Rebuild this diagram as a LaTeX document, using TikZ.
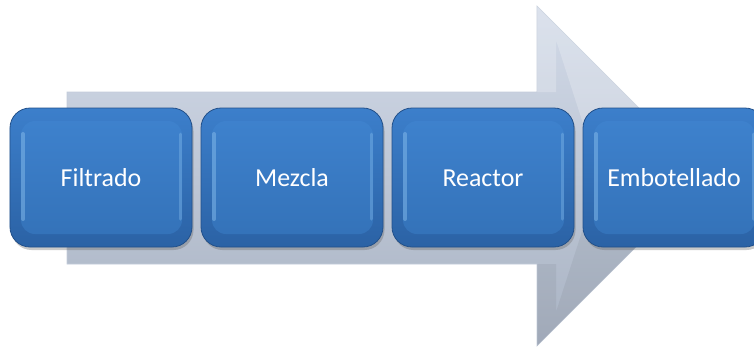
\documentclass[tikz,border=0pt]{standalone}
\usepackage{fontspec}
\setmainfont{Carlito}
\usetikzlibrary{shadows}
\definecolor{boxtop}{HTML}{3C7FCB}
\definecolor{boxbot}{HTML}{2B62A5}
\definecolor{boxedge}{HTML}{22508A}
\definecolor{facetop}{HTML}{3F83CF}
\definecolor{facebot}{HTML}{3371B7}
\definecolor{glint}{HTML}{8EC2EE}
\definecolor{arrtop}{HTML}{D2DAE8}
\definecolor{arrbot}{HTML}{A9B3C3}
\definecolor{arredge}{HTML}{C3CCDA}
\tikzset{
  stepbox/.style={
    rounded corners=20bp, minimum width=182bp, minimum height=139bp,
    draw=boxedge, line width=0.8bp, top color=boxtop, bottom color=boxbot,
    text=white, font=\fontsize{26}{30}\selectfont, inner sep=0pt,
    text height=21bp, text depth=4bp,
    drop shadow={shadow xshift=1.5bp, shadow yshift=-3bp, opacity=0.35, fill=black!60},
    path picture={
      \path[rounded corners=14bp, top color=facetop, bottom color=facebot]
        ([shift={(11bp,-13bp)}]path picture bounding box.north west)
        rectangle ([shift={(-10bp,13bp)}]path picture bounding box.south east);
      \draw[glint, line width=4bp, line cap=round, opacity=0.45]
        ([shift={(13bp,-26bp)}]path picture bounding box.north west)
        -- ([shift={(13bp,28bp)}]path picture bounding box.south west);
      \draw[glint, line width=3bp, line cap=round, opacity=0.35]
        ([shift={(-12bp,-26bp)}]path picture bounding box.north east)
        -- ([shift={(-12bp,28bp)}]path picture bounding box.south east);
    }
  },
  flowarrow/.style={top color=arrtop, bottom color=arrbot, draw=arredge, line width=0.6bp}
}
\begin{document}
\begin{tikzpicture}[x=1bp, y=-1bp]
  \useasboundingbox (0,0) rectangle (754,347);
  \clip (0,0) rectangle (754,347);
  % wide process arrow behind the steps
  \path[flowarrow] (67,92) -- (537,92) -- (537,6) -- (707,176)
    -- (537,346) -- (537,264) -- (67,264) -- cycle;
  % inner bevel of the arrow head
  \path[fill=white, opacity=0.22] (537,6) -- (707,176) -- (600,176) -- (556,40) -- (556,92) -- (537,92) -- cycle;
  \path[fill=black, opacity=0.05] (537,346) -- (707,176) -- (600,176) -- (556,312) -- (556,264) -- (537,264) -- cycle;
  % process steps
  \node[stepbox] (filtrado) at (101,177.5) {Filtrado};
  \node[stepbox] (mezcla) at (292,177.5) {Mezcla};
  \node[stepbox] (reactor) at (483,177.5) {Reactor};
  \node[stepbox] (embotellado) at (674,177.5) {Embotellado};
\end{tikzpicture}
\end{document}
